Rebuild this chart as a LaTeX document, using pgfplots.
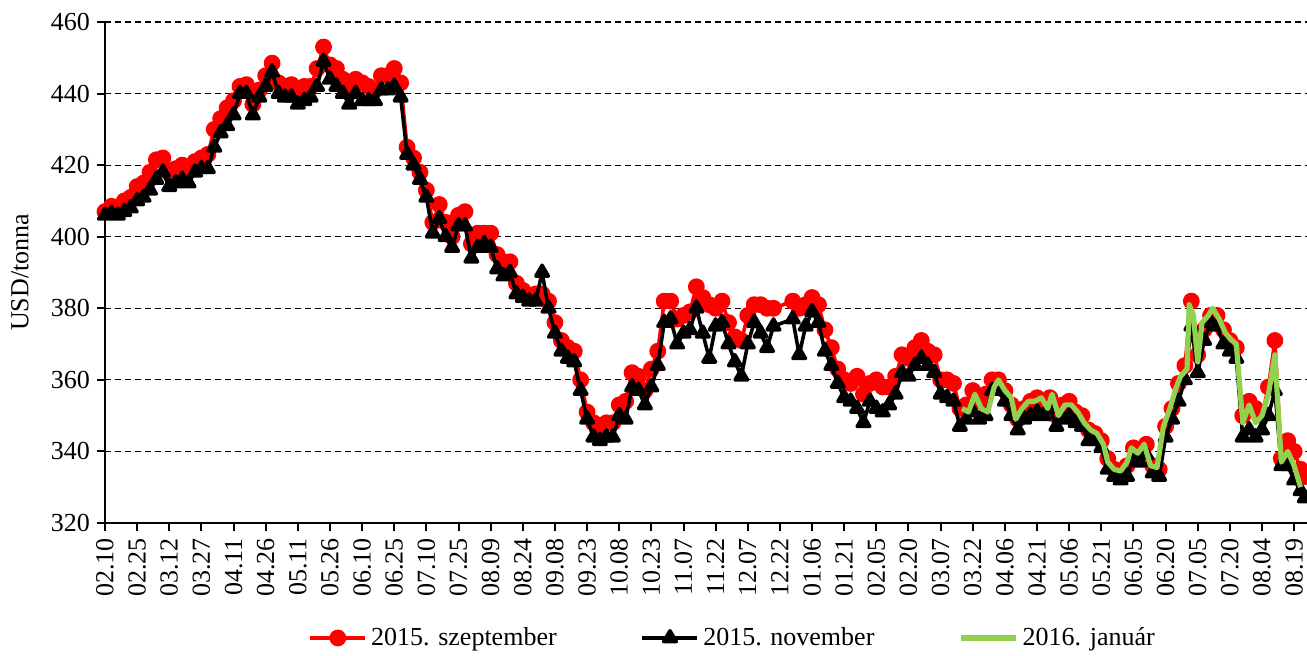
\documentclass[border=0pt]{standalone}
\usepackage{fontspec}
\setmainfont{Liberation Serif}
\usepackage{pgfplots}
\usepackage{pgfplotstable}
\pgfplotsset{compat=1.18}
\definecolor{grn}{RGB}{146,208,80}
\newcommand\fs{\fontsize{13}{15.6}\selectfont}
\pgfplotstableread{
d r b
0 407 406
3 408.5 406.5
6 408 406
9 410 407
12 411 408
15 414 410
18 415 411
21 418 413
24 421.5 416
27 422 418
30 418 414
33 419 415
36 420 416
39 418.5 415
42 421 418
45 422 419
48 423 419
51 430 425
54 433 429
57 436 431
60 438 434
63 442 440
66 442.5 440
69 437 434
72 441 439
75 445 442
78 448.5 446
81 443 440
84 442 439
87 442.5 439
90 441 437
93 442 438
96 442 439
99 447 442
102 453 449
105 448 444
108 447 442
111 444 440
114 442 437
117 444 440
120 443 438
123 442 438
126 441 438
129 445 441
132 445 441
135 447 442
138 443 439
141 425 423
144 422 420
147 418 416
150 413 411
153 404 401
156 409 405
159 404 400
162 400 397
165 406 403
168 407 403
171 398 394
174 401 397
177 401 398
180 401 397
183 395 391
186 393 389
189 393 390
192 387 384
195 385 383
198 383 382
201 384 382
204 384 390
207 382 380
210 376 373
213 371 368
216 369 366
219 368 365
222 360 357
225 351 349
228 348 344
231 347 343
234 348 344
237 348 344
240 353 350
243 354 349
246 362 358
249 361 357
252 357 353
255 363 358
258 368 364
261 382 376
264 382 377
267 377 370
270 378 373
273 379 374
276 386 380
279 383 373
282 381 366
285 380 375
288 382 376
291 376 370
294 372 365
297 371 361
300 378 370
303 381 376
306 381 373
309 380 369
312 380 375
321 382 377
324 380 367
327 381 375
330 383 379
333 381 376
336 374 368
339 369 364
342 363 359
345 360 355
348 359 354
351 361 352
354 356 348
357 359 354
360 360 352
363 358 351
366 358 353
369 361 356
372 367 362
375 366 361
378 369 364
381 371 366
384 368 364
387 367 362
390 360 356
393 360 355
396 359 354
399 352 347
402 353 349
405 357 351
408 354 349
411 356 350
414 360 357
417 360 357
420 357 354
423 353 350
426 349 346
429 352 349
432 354 350
435 355 351
438 354 350
441 355 352
444 350 347
447 353 349
450 354 350
453 351 348
456 350 347
459 346 343
462 345 343
465 343 341
468 338 335
471 335 333
474 334 332
477 336 333
480 341 338
483 340 337
486 342 339
489 336 334
492 335 333
495 347 344
498 352 349
501 359 354
504 364 360
507 382 375
510 367 362
513 374 371
516 378 376
519 378 375
522 374 370
525 371 368
528 369 366
531 350 344
534 354 346
537 352 344
540 350 346
543 358 350
546 371 357
549 338 336
552 343 336
555 340 332
558 335 329
560 333 327
}\rb
\pgfplotstableread{
d g
400 352
403 351
406 356
409 352
412 351
415 358
417 360
420 357
423 355
425 349
428 352
431 354
434 354
437 355
440 352
442 356
445 350
448 353
451 353
454 351
457 348
460 346
463 345
466 342
468 337
471 335
474 334.5
477 337
479 341
482 339.5
485 342
488 336
491 335.5
494 347
497 352
500 358
502 361
505 363
506 381
508 378
510 365
512 376
515 378
517 380
520 377
523 373
526 371
528 370
531 348
534 353
537 348
540 350
543 356
546 367
549 337
552 340
555 336
558 330
}\gr
\begin{document}
\begin{tikzpicture}
\begin{axis}[name=ax, scale only axis, width=601pt, height=250.5pt,
 xmin=0, xmax=561, ymin=320, ymax=460,
 xtick={0,15,...,555},
 xticklabels={02.10,02.25,03.12,03.27,04.11,04.26,05.11,05.26,06.10,06.25,07.10,07.25,08.09,08.24,09.08,09.23,10.08,10.23,11.07,11.22,12.07,12.22,01.06,01.21,02.05,02.20,03.07,03.22,04.06,04.21,05.06,05.21,06.05,06.20,07.05,07.20,08.04,08.19},
 ytick={320,340,...,460},
 axis x line*=bottom, axis y line*=left,
 axis line style={line width=1pt,-},
 tick align=outside, major tick length=4pt,
 tick style={black,line width=1pt},
 ymajorgrids,
 grid style={black, line width=0.6pt, dash pattern=on 3pt off 2pt},
 xticklabel style={rotate=90, anchor=east, font=\fs},
 yticklabel style={font=\fs},
 /pgf/number format/assume math mode=true,
 ylabel={USD/tonna},
 every axis y label/.style={at={(axis description cs:0,0.5)}, xshift=-42.5pt, rotate=90, anchor=center, font=\fs},
 clip=false,
 clip marker paths=true,
 legend columns=3,
 legend style={draw=none, font=\fs, at={(0.169,-0.2295)}, anchor=west, inner sep=0pt,
   /tikz/every even column/.append style={column sep=40pt}},
 legend image code/.code={\draw[mark repeat=2,mark phase=2,#1] plot coordinates {(0pt,0pt)(13.75pt,0pt)(27.5pt,0pt)};},
]
\addplot[red, line width=1.8pt, line join=round, mark=*, mark size=3.3pt, mark options={solid}] table[x=d,y=r]{\rb};
\addlegendentry{2015. szeptember}
\addplot[black, line width=1.8pt, line join=round, mark=triangle*, mark size=3.6pt, mark options={solid}] table[x=d,y=b]{\rb};
\addlegendentry{2015. november}
\addplot[grn, line width=2.6pt, line join=round, no markers] table[x=d,y=g]{\gr};
\addlegendentry{2016. január}
\end{axis}
\pgfresetboundingbox
\path ([xshift=-52.5pt,yshift=-66.5pt]ax.south west) rectangle ([yshift=11pt]ax.north east);
\end{tikzpicture}
\end{document}
